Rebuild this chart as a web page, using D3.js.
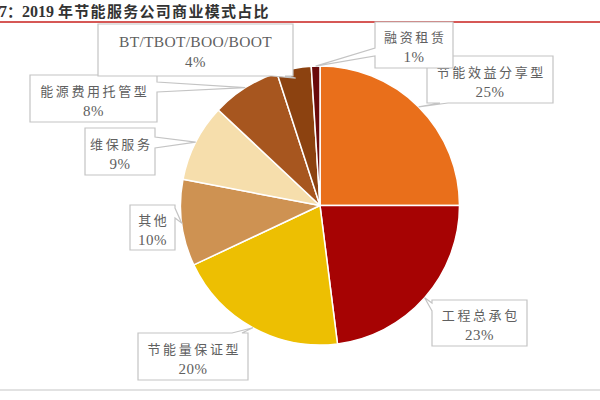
<!DOCTYPE html>
<html><head><meta charset="utf-8">
<script src="https://cdn.jsdelivr.net/npm/d3@7"></script>
<style>html,body{margin:0;padding:0;background:#fff;overflow:hidden}</style>
</head><body>
<svg id="c" width="600" height="400"></svg>
<script>
const categories = ["节能效益分享型","工程总承包","节能量保证型","其他","维保服务","能源费用托管型","BT/TBOT/BOO/BOOT","融资租赁"];
const values = [25,23,20,10,9,8,4,1];
const percentLabels = ["25%","23%","20%","10%","9%","8%","4%","1%"];
const colors = ["#E96F1B","#A60303","#EDBF02","#CE9252","#F6DEAC","#A7561F","#8C4210","#6A0B0B"];
// label box layout: [x, y, w, h, side, base1, base2, tipRadiusFactor]
const layout = [
  [427, 56, 126, 47, "bottom", 440, 448, 1.0],
  [432, 300, 95, 46, "left", 303, 311, 1.0],
  [138, 333, 110, 47, "top", 232, 242, 1.0],
  [130, 205, 45, 45, "right", 208, 218, 1.0],
  [85, 128, 70, 47, "right", 137, 148, 1.0],
  [30, 75, 127, 47, "right", 82, 92, 1.0],
  [98, 24, 195, 52, "bottom", 272, 285, 0.93],
  [375, 22, 78, 46, "left", 48, 56, 1.0]
];

const svg = d3.select("#c");
const cx = 320, cy = 205.5, R = 139.5;

// title
const title = svg.append("text").attr("x", -1).attr("y", 17).attr("font-weight", "bold").attr("fill", "#333");
title.append("tspan").attr("font-family", "Liberation Serif").attr("font-size", 16).text("7");
title.append("tspan").attr("font-family", "Noto Sans CJK SC").attr("font-size", 15).text("：");
title.append("tspan").attr("font-family", "Liberation Serif").attr("font-size", 16).text("2019 ");
title.append("tspan").attr("font-family", "Noto Sans CJK SC").attr("font-size", 15).attr("letter-spacing", 1.3).text("年节能服务公司商业模式占比");
svg.append("line").attr("x1", 0).attr("x2", 600).attr("y1", 22).attr("y2", 22).attr("stroke", "#C8201E").attr("stroke-width", 1.6);
svg.append("line").attr("x1", 0).attr("x2", 600).attr("y1", 390).attr("y2", 390).attr("stroke", "#E2E2E2").attr("stroke-width", 2);

const pie = d3.pie().sort(null).value(d => d)(values);
const arc = d3.arc().innerRadius(0).outerRadius(R);
const g = svg.append("g").attr("transform", `translate(${cx},${cy})`);
g.selectAll("path").data(pie).join("path")
  .attr("d", arc).attr("fill", (d, i) => colors[i])
  .attr("stroke", "#fff").attr("stroke-width", 1.5).attr("stroke-linejoin", "round");

function calloutPath(L, tx, ty) {
  const [x, y, w, h, side, b1, b2] = L;
  if (side === "right") return `M${x},${y}H${x+w}V${b1}L${tx},${ty}L${x+w},${b2}V${y+h}H${x}Z`;
  if (side === "left") return `M${x},${y}H${x+w}V${y+h}H${x}V${b2}L${tx},${ty}L${x},${b1}Z`;
  if (side === "top") return `M${x},${y}H${b1}L${tx},${ty}L${b2},${y}H${x+w}V${y+h}H${x}Z`;
  return `M${x},${y}H${x+w}V${y+h}H${b2}L${tx},${ty}L${b1},${y+h}H${x}Z`;
}

const labels = svg.append("g");
pie.forEach((d, i) => {
  const L = layout[i];
  const a = (d.startAngle + d.endAngle) / 2;
  const r = R * L[7];
  const tx = cx + r * Math.sin(a), ty = cy - r * Math.cos(a);
  labels.append("path").attr("d", calloutPath(L, tx, ty))
    .attr("fill", "#fff").attr("stroke", "#C4C4C4").attr("stroke-width", 1.2);
  const mx = L[0] + L[2] / 2, my = L[1] + L[3] / 2;
  const isLatin = /^[A-Za-z\/]+$/.test(categories[i]);
  const t1 = labels.append("text").attr("x", mx).attr("y", my - 3).attr("text-anchor", "middle").attr("fill", "#606060");
  if (isLatin) {
    t1.attr("font-family", "Liberation Serif").attr("font-size", 15.5).attr("letter-spacing", 0.3).text(categories[i]);
  } else {
    t1.attr("font-family", "Noto Sans CJK SC").attr("font-size", 13).attr("letter-spacing", 2.6).attr("dx", 1.3).text(categories[i]);
  }
  labels.append("text").attr("x", mx).attr("y", my + 17).attr("text-anchor", "middle").attr("fill", "#606060")
    .attr("font-family", "Liberation Serif").attr("font-size", 15).attr("letter-spacing", 0.5).text(percentLabels[i]);
});
</script>
</body></html>
